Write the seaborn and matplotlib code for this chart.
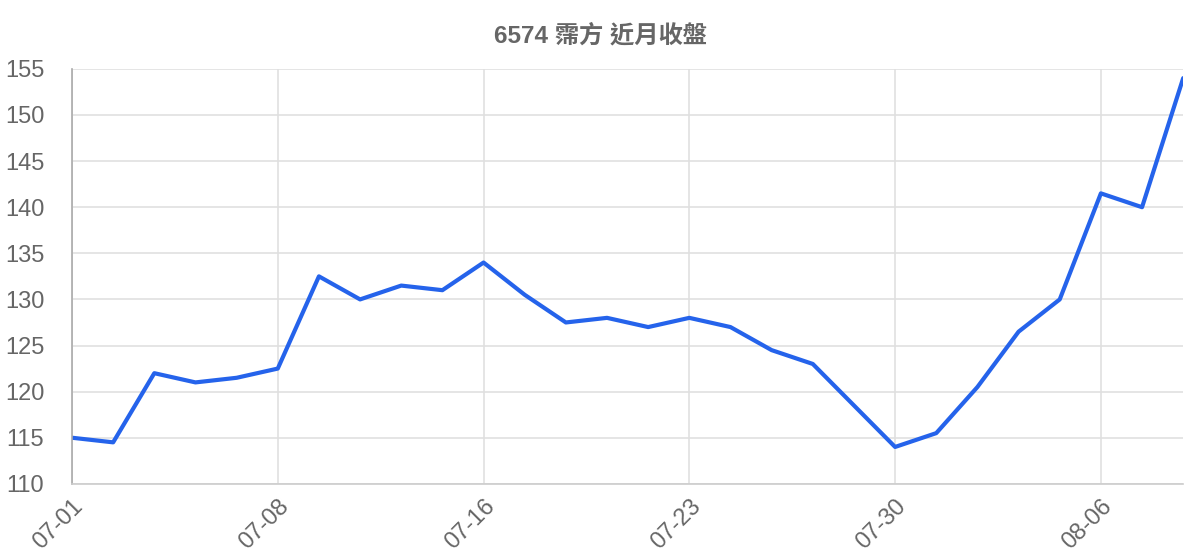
import pandas as pd
import seaborn as sns
import matplotlib.pyplot as plt

# data
dates = ['07-01', '07-02', '07-03', '07-04', '07-07', '07-08', '07-09', '07-10',
         '07-11', '07-14', '07-16', '07-17', '07-18', '07-21', '07-22', '07-23',
         '07-24', '07-25', '07-28', '07-29', '07-30', '07-31', '08-01', '08-04',
         '08-05', '08-06', '08-07', '08-08']
close = [115, 114.5, 122, 121, 121.5, 122.5, 132.5, 130, 131.5, 131, 134, 130.5,
         127.5, 128, 127, 128, 127, 124.5, 123, 118.5, 114, 115.5, 120.5, 126.5,
         130, 141.5, 140, 154]
y_ticks = [110, 115, 120, 125, 130, 135, 140, 145, 150, 155]
title = '6574 霈方 近月收盤'

df = pd.DataFrame({'date': dates, 'close': close})
df['idx'] = range(len(df))

sns.set_theme(style='white')
plt.rcParams['font.family'] = ['Liberation Sans', 'Noto Sans CJK TC', 'DejaVu Sans']

fig, ax = plt.subplots(figsize=(12, 5.6), dpi=100)
fig.subplots_adjust(left=0.06, right=0.986, top=0.877, bottom=0.136)

sns.lineplot(data=df, x='idx', y='close', ax=ax, color='#2563eb', linewidth=3)

ax.set_xlim(0, len(df) - 1)
ax.set_ylim(110, 155)
ax.set_yticks(y_ticks)
tick_idx = list(range(0, len(df), 5))
ax.set_xticks(tick_idx)
ax.set_xticklabels([dates[i] for i in tick_idx], rotation=45, ha='right',
                   rotation_mode='anchor')
ax.set_xlabel('')
ax.set_ylabel('')

ax.grid(True, color='#e0e0e0', linewidth=1.2)
ax.set_axisbelow(True)
ax.tick_params(axis='both', color='#e0e0e0', labelcolor='#666666',
               labelsize=17, width=1.2)
ax.tick_params(axis='x', length=16, pad=-8)
ax.tick_params(axis='y', length=18, pad=2)
for s in ['top', 'right']:
    ax.spines[s].set_visible(False)
ax.spines['left'].set_color('#aaaaaa')
ax.spines['bottom'].set_color('#cccccc')
ax.spines['left'].set_linewidth(1.2)
ax.spines['bottom'].set_linewidth(1.2)

fig.suptitle(title, x=0.5, y=0.937, va='center', fontsize=17.5,
             fontweight='bold', color='#666666',
             family=['Liberation Sans', 'Noto Sans CJK TC'])

plt.savefig('out.png', dpi=100)
